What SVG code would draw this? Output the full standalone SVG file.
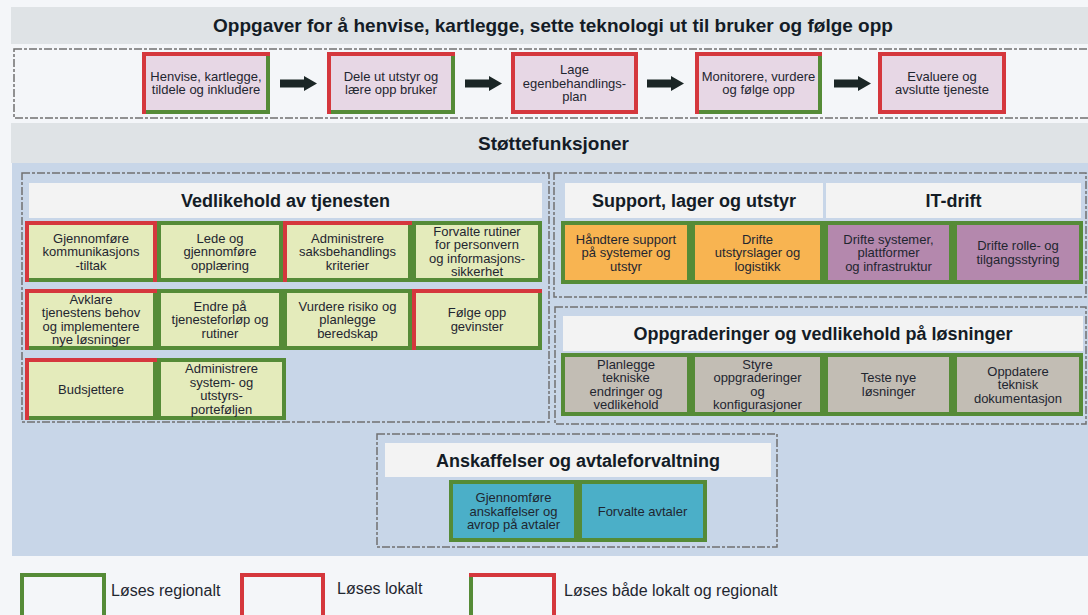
<svg xmlns="http://www.w3.org/2000/svg" width="1088" height="615" viewBox="0 0 1088 615">
<defs>
<style>
.t{font-family:"Liberation Sans",Arial,sans-serif;font-size:13px;fill:#1f2630;text-anchor:middle}
.h{font-family:"Liberation Sans",Arial,sans-serif;font-weight:bold;font-size:18px;fill:#141c26;text-anchor:middle}
.lg{font-family:"Liberation Sans",Arial,sans-serif;font-size:16px;fill:#1f2630}
.g{stroke:#558b37;stroke-width:4}
.r{stroke:#d5373d;stroke-width:4;fill:none}
.rr{stroke:#d5373d;stroke-width:4}
.d{fill:none;stroke:#707070;stroke-width:1.5;stroke-dasharray:8 2 3 2}
.band{fill:#dfe3e6}
.hd{fill:#f3f3f3}
.yg{fill:#e4ebbb}
.lv{fill:#e7d7e5}
.or{fill:#f8b451}
.pu{fill:#b488ad}
.gr{fill:#c2bdb4}
.te{fill:#4bafc8}
.ar{fill:#1b2626}
</style>
</defs>
<rect x="0" y="0" width="1088" height="615" fill="#f4f6f9"/>
<rect class="band" x="11" y="7" width="1077" height="37"/>
<text class="h" x="553" y="32" style="font-size:19px">Oppgaver for å henvise, kartlegge, sette teknologi ut til bruker og følge opp</text>
<rect class="d" x="14" y="49" width="1080" height="69"/>
<rect class="band" x="11" y="123" width="1077" height="40"/>
<text class="h" x="553.5" y="149.5" style="font-size:19px">Støttefunksjoner</text>
<rect x="12" y="163" width="1076" height="393" fill="#c8d6e8"/>

<!-- section frames -->
<rect class="d" x="22" y="173" width="527" height="249"/>
<rect class="hd" x="29" y="183" width="513" height="35"/>
<text class="h" x="285.5" y="207">Vedlikehold av tjenesten</text>
<rect class="d" x="554" y="173" width="532" height="124"/>
<rect class="hd" x="565" y="183" width="258" height="35"/>
<text class="h" x="694" y="207">Support, lager og utstyr</text>
<rect class="hd" x="826" y="183" width="255" height="35"/>
<text class="h" x="953.5" y="207">IT-drift</text>
<rect class="d" x="555" y="307" width="531" height="117"/>
<rect class="hd" x="563" y="316" width="520" height="35"/>
<text class="h" x="823" y="340">Oppgraderinger og vedlikehold på løsninger</text>
<rect class="d" x="377" y="434" width="400" height="113"/>
<rect class="hd" x="385" y="443" width="386" height="34"/>
<text class="h" x="578" y="466.5">Anskaffelser og avtaleforvaltning</text>

<!-- connectors -->
<g id="connectors">
<polygon class="ar" points="280,79.5 304,79.5 304,76 317,83.5 304,91 304,87.5 280,87.5"/>
<polygon class="ar" points="465,79.5 489,79.5 489,76 502,83.5 489,91 489,87.5 465,87.5"/>
<polygon class="ar" points="647,79.5 671,79.5 671,76 684,83.5 671,91 671,87.5 647,87.5"/>
<polygon class="ar" points="834,79.5 858,79.5 858,76 871,83.5 858,91 858,87.5 834,87.5"/>
</g>

<!-- top row -->
<g id="t1"><rect class="lv g" x="144" y="54" width="124" height="58"/><path class="r" d="M142,54H270M144,52V114"/>
<text class="t"><tspan x="206" y="80.75">Henvise, kartlegge,</tspan><tspan x="206" y="94.25">tildele og inkludere</tspan></text></g>
<g id="t2"><rect class="lv g" x="329" y="54" width="124" height="58"/><path class="r" d="M327,54H455M329,52V114"/>
<text class="t"><tspan x="391" y="80.75">Dele ut utstyr og</tspan><tspan x="391" y="94.25">lære opp bruker</tspan></text></g>
<g id="t3"><rect class="lv rr" x="513" y="54" width="123" height="58"/>
<text class="t"><tspan x="574.5" y="74">Lage</tspan><tspan x="574.5" y="87.5">egenbehandlings-</tspan><tspan x="574.5" y="101">plan</tspan></text></g>
<g id="t4"><rect class="lv g" x="697" y="54" width="123" height="58"/><path class="r" d="M695,54H822M697,52V114"/>
<text class="t"><tspan x="758.5" y="80.75">Monitorere, vurdere</tspan><tspan x="758.5" y="94.25">og følge opp</tspan></text></g>
<g id="t5"><rect class="lv rr" x="880" y="54" width="124" height="58"/>
<text class="t"><tspan x="942" y="80.75">Evaluere og</tspan><tspan x="942" y="94.25">avslutte tjeneste</tspan></text></g>

<!-- vedlikehold -->
<g id="n1"><rect class="yg g" x="27" y="223" width="128" height="57"/><path class="r" d="M25,223H157M27,221V282M155,221V282"/>
<text class="t"><tspan x="91" y="242.5">Gjennomføre</tspan><tspan x="91" y="256">kommunikasjons</tspan><tspan x="91" y="269.5">-tiltak</tspan></text></g>
<g id="n2"><rect class="yg g" x="159" y="223" width="122" height="57"/>
<text class="t"><tspan x="220" y="242.5">Lede og</tspan><tspan x="220" y="256">gjennomføre</tspan><tspan x="220" y="269.5">opplæring</tspan></text></g>
<g id="n3"><rect class="yg g" x="285" y="223" width="125" height="57"/><path class="r" d="M283,223H412M285,221V282"/>
<text class="t"><tspan x="347.5" y="242.5">Administrere</tspan><tspan x="347.5" y="256">saksbehandlings</tspan><tspan x="347.5" y="269.5">kriterier</tspan></text></g>
<g id="n4"><rect class="yg g" x="414" y="223" width="126" height="57"/>
<text class="t"><tspan x="477" y="235.75">Forvalte rutiner</tspan><tspan x="477" y="249.25">for personvern</tspan><tspan x="477" y="262.75">og informasjons-</tspan><tspan x="477" y="276.25">sikkerhet</tspan></text></g>
<g id="n5"><rect class="yg g" x="27" y="291" width="128" height="57"/><path class="r" d="M25,291H157M27,289V350"/>
<text class="t"><tspan x="91" y="303.75">Avklare</tspan><tspan x="91" y="317.25">tjenestens behov</tspan><tspan x="91" y="330.75">og implementere</tspan><tspan x="91" y="344.25">nye løsninger</tspan></text></g>
<g id="n6"><rect class="yg g" x="159" y="291" width="122" height="57"/>
<text class="t"><tspan x="220" y="310.5">Endre på</tspan><tspan x="220" y="324">tjenesteforløp og</tspan><tspan x="220" y="337.5">rutiner</tspan></text></g>
<g id="n7"><rect class="yg g" x="285" y="291" width="125" height="57"/>
<text class="t"><tspan x="347.5" y="310.5">Vurdere risiko og</tspan><tspan x="347.5" y="324">planlegge</tspan><tspan x="347.5" y="337.5">beredskap</tspan></text></g>
<g id="n8"><rect class="yg g" x="414" y="291" width="126" height="57"/><path class="r" d="M412,291H542M414,289V350"/>
<text class="t"><tspan x="477" y="317.25">Følge opp</tspan><tspan x="477" y="330.75">gevinster</tspan></text></g>
<g id="n9"><rect class="yg g" x="27" y="360" width="128" height="58"/><path class="r" d="M25,360H157M27,358V420"/>
<text class="t"><tspan x="91" y="393.5">Budsjettere</tspan></text></g>
<g id="n10"><rect class="yg g" x="159" y="360" width="125" height="58"/>
<text class="t"><tspan x="221.5" y="373.25">Administrere</tspan><tspan x="221.5" y="386.75">system- og</tspan><tspan x="221.5" y="400.25">utstyrs-</tspan><tspan x="221.5" y="413.75">porteføljen</tspan></text></g>

<!-- support / IT -->
<g id="s1"><rect class="or g" x="563" y="223" width="126" height="59"/>
<text class="t"><tspan x="626" y="243.5">Håndtere support</tspan><tspan x="626" y="257">på systemer og</tspan><tspan x="626" y="270.5">utstyr</tspan></text></g>
<g id="s2"><rect class="or g" x="693" y="223" width="129" height="59"/>
<text class="t"><tspan x="757.5" y="243.5">Drifte</tspan><tspan x="757.5" y="257">utstyrslager og</tspan><tspan x="757.5" y="270.5">logistikk</tspan></text></g>
<g id="s3"><rect class="pu g" x="826" y="223" width="125" height="59"/>
<text class="t"><tspan x="888.5" y="243.5">Drifte systemer,</tspan><tspan x="888.5" y="257">plattformer</tspan><tspan x="888.5" y="270.5">og infrastruktur</tspan></text></g>
<g id="s4"><rect class="pu g" x="955" y="223" width="126" height="59"/>
<text class="t"><tspan x="1018" y="250.25">Drifte rolle- og</tspan><tspan x="1018" y="263.75">tilgangsstyring</tspan></text></g>

<!-- upgrades -->
<g id="u1"><rect class="gr g" x="563" y="355" width="126" height="59"/>
<text class="t"><tspan x="626" y="368.75">Planlegge</tspan><tspan x="626" y="382.25">tekniske</tspan><tspan x="626" y="395.75">endringer og</tspan><tspan x="626" y="409.25">vedlikehold</tspan></text></g>
<g id="u2"><rect class="gr g" x="693" y="355" width="129" height="59"/>
<text class="t"><tspan x="757.5" y="368.75">Styre</tspan><tspan x="757.5" y="382.25">oppgraderinger</tspan><tspan x="757.5" y="395.75">og</tspan><tspan x="757.5" y="409.25">konfigurasjoner</tspan></text></g>
<g id="u3"><rect class="gr g" x="826" y="355" width="125" height="59"/>
<text class="t"><tspan x="888.5" y="382.25">Teste nye</tspan><tspan x="888.5" y="395.75">løsninger</tspan></text></g>
<g id="u4"><rect class="gr g" x="955" y="355" width="126" height="59"/>
<text class="t"><tspan x="1018" y="375.5">Oppdatere</tspan><tspan x="1018" y="389">teknisk</tspan><tspan x="1018" y="402.5">dokumentasjon</tspan></text></g>

<!-- procurement -->
<g id="a1"><rect class="te g" x="451" y="482" width="125" height="58"/>
<text class="t"><tspan x="513.5" y="502">Gjennomføre</tspan><tspan x="513.5" y="515.5">anskaffelser og</tspan><tspan x="513.5" y="529">avrop på avtaler</tspan></text></g>
<g id="a2"><rect class="te g" x="580" y="482" width="125" height="58"/>
<text class="t"><tspan x="642.5" y="515.5">Forvalte avtaler</tspan></text></g>

<!-- legend -->
<g id="legend">
<rect class="g" x="22" y="575" width="82" height="48" fill="#f4f6f9"/>
<text class="lg" x="111" y="596">Løses regionalt</text>
<rect class="rr" x="242" y="575" width="81" height="48" fill="#f4f6f9"/>
<text class="lg" x="337" y="594">Løses lokalt</text>
<rect class="g" x="471" y="575" width="83" height="48" fill="#f4f6f9"/>
<path class="r" d="M469,575H556M554,573V615"/>
<text class="lg" x="564" y="596">Løses både lokalt og regionalt</text>
</g>
</svg>
